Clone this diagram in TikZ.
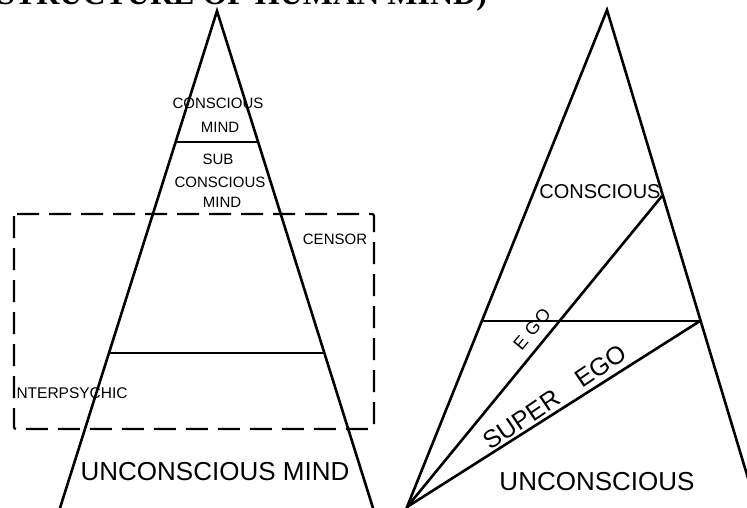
\documentclass[tikz,border=0pt]{standalone}
\usepackage{fontspec}
\usetikzlibrary{calc}
\setmainfont{Liberation Sans}
\newfontfamily\titlefont{Liberation Serif}
\begin{document}
\begin{tikzpicture}[x=1pt,y=-1pt,
  edge/.style={line width=2.6pt},
  box/.style={line width=2.2pt, dash pattern=on 22pt off 10pt, rounded corners=2pt},
  lbl/.style={inner sep=0pt, font=\fontsize{15}{15}\selectfont},
  big/.style={inner sep=0pt, font=\fontsize{26}{26}\selectfont}]
\useasboundingbox (0,0) rectangle (747,508);
\clip (0,0) rectangle (747,508);
% title (cut off at the top)
\node[inner sep=0pt, anchor=base west, font=\titlefont\bfseries\fontsize{32}{32}\selectfont] (title) at (-3,5) {STRUCTURE OF HUMAN MIND)};
% ---------- left triangle ----------
\coordinate (LA) at (217,11);
\coordinate (LL) at (60,508);
\coordinate (LR) at (373,508);
\coordinate (L1a) at (176,142);
\coordinate (L1b) at (259,142);
\coordinate (L2a) at (109,353);
\coordinate (L2b) at (325,353);
\draw[edge, line join=miter] ($(LL)!-0.05!(LA)$) -- (LA) -- ($(LR)!-0.05!(LA)$);
\draw[edge] (L1a) -- (L1b);
\draw[edge] (L2a) -- (L2b);
\draw[box] (14,214) rectangle (374,429);
\node[lbl] (c1) at (218,103) {CONSCIOUS};
\node[lbl] (m1) at (220,127) {MIND};
\node[lbl] (sub) at (218,159) {SUB};
\node[lbl] (c2) at (220,182) {CONSCIOUS};
\node[lbl] (m2) at (222,202) {MIND};
\node[lbl] (censor) at (335,239) {CENSOR};
\node[lbl, anchor=west, font=\fontsize{15.5}{15.5}\selectfont] (inter) at (12,393) {INTERPSYCHIC};
\node[big] (um) at (215,472) {UNCONSCIOUS MIND};
% ---------- right triangle ----------
\coordinate (RA) at (607,10);
\coordinate (RL) at (407,507);
\coordinate (RR) at (757,508);
\coordinate (H1) at (482,321);
\coordinate (H2) at (700,321);
\coordinate (D1) at (662,196);
\draw[edge, line join=miter] ($(RL)!-0.02!(RA)$) -- (RA) -- (RR);
\draw[edge] (H1) -- (H2);
\draw[edge] (RL) -- (D1);
\draw[edge] (RL) -- (H2);
\node[inner sep=0pt, font=\fontsize{20}{20}\selectfont] (rc) at (600,192) {CONSCIOUS};
\node[inner sep=0pt, rotate=50, font=\fontsize{18}{18}\selectfont] (ego) at (532,329) {E\hspace{0.3em}G\hspace{0.1em}O};
\node[inner sep=0pt, rotate=34, font=\fontsize{25}{25}\selectfont] (super) at (555,397) {SUPER\hspace{1em}EGO};
\node[big] (ru) at (597,482) {UNCONSCIOUS};
\end{tikzpicture}
\end{document}
